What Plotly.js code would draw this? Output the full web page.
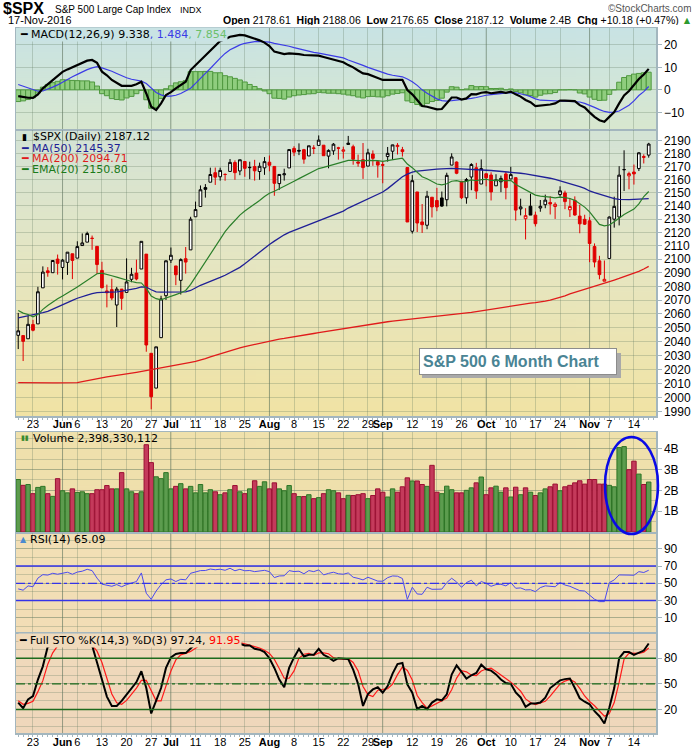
<!DOCTYPE html>
<html><head><meta charset="utf-8">
<script src="https://cdn.plot.ly/plotly-3.0.1.min.js"></script>
<style>html,body{margin:0;padding:0;background:#fff;}#chart{width:700px;height:748px;}</style>
</head><body><div id="chart"></div>
<script>
const dates=['2016-05-18','2016-05-19','2016-05-20','2016-05-23','2016-05-24','2016-05-25','2016-05-26','2016-05-27','2016-05-31',
'2016-06-01','2016-06-02','2016-06-03','2016-06-06','2016-06-07','2016-06-08','2016-06-09','2016-06-10','2016-06-13','2016-06-14','2016-06-15','2016-06-16','2016-06-17','2016-06-20','2016-06-21','2016-06-22','2016-06-23','2016-06-24','2016-06-27','2016-06-28','2016-06-29','2016-06-30',
'2016-07-01','2016-07-05','2016-07-06','2016-07-07','2016-07-08','2016-07-11','2016-07-12','2016-07-13','2016-07-14','2016-07-15','2016-07-18','2016-07-19','2016-07-20','2016-07-21','2016-07-22','2016-07-25','2016-07-26','2016-07-27','2016-07-28','2016-07-29',
'2016-08-01','2016-08-02','2016-08-03','2016-08-04','2016-08-05','2016-08-08','2016-08-09','2016-08-10','2016-08-11','2016-08-12','2016-08-15','2016-08-16','2016-08-17','2016-08-18','2016-08-19','2016-08-22','2016-08-23','2016-08-24','2016-08-25','2016-08-26','2016-08-29','2016-08-30','2016-08-31',
'2016-09-01','2016-09-02','2016-09-06','2016-09-07','2016-09-08','2016-09-09','2016-09-12','2016-09-13','2016-09-14','2016-09-15','2016-09-16','2016-09-19','2016-09-20','2016-09-21','2016-09-22','2016-09-23','2016-09-26','2016-09-27','2016-09-28','2016-09-29','2016-09-30',
'2016-10-03','2016-10-04','2016-10-05','2016-10-06','2016-10-07','2016-10-10','2016-10-11','2016-10-12','2016-10-13','2016-10-14','2016-10-17','2016-10-18','2016-10-19','2016-10-20','2016-10-21','2016-10-24','2016-10-25','2016-10-26','2016-10-27','2016-10-28','2016-10-31',
'2016-11-01','2016-11-02','2016-11-03','2016-11-04','2016-11-07','2016-11-08','2016-11-09','2016-11-10','2016-11-11','2016-11-14','2016-11-15','2016-11-16','2016-11-17'];

const open=[2044.38,2044.21,2041.88,2052.23,2052.65,2078.93,2091.44,2090.06,2100.13,2093.94,
2097.71,2104.07,2100.83,2110.18,2112.71,2115.65,2109.57,2091.75,2076.65,2077.60,
2066.36,2078.00,2075.58,2085.19,2089.75,2092.80,2103.81,2031.45,2006.67,2042.69,
2073.17,2099.34,2095.05,2084.43,2100.42,2106.97,2131.72,2139.50,2153.81,2157.88,
2165.13,2162.04,2163.79,2166.10,2172.91,2166.47,2173.71,2168.97,2169.81,2166.05,
2168.83,2173.15,2169.94,2156.81,2163.51,2168.79,2183.76,2182.24,2182.81,2177.97,
2183.74,2186.08,2186.24,2177.84,2181.90,2184.24,2181.58,2187.81,2185.09,2173.29,
2175.10,2170.19,2179.45,2173.56,2171.33,2177.49,2181.61,2185.17,2182.76,2169.08,
2120.86,2150.47,2127.86,2125.36,2146.48,2143.99,2145.94,2144.58,2170.94,2173.29,
2158.54,2146.04,2161.85,2168.90,2156.51,2164.33,2163.37,2155.15,2158.22,2164.19,
2160.39,2161.35,2137.67,2130.26,2139.68,2132.95,2138.31,2140.81,2142.51,2139.43,
2148.50,2149.72,2136.97,2144.06,2132.23,2129.78,2128.68,2109.43,2098.80,2083.79,
2100.59,2129.92,2131.56,2167.49,2162.71,2165.64,2168.29,2177.53,2178.61];
const high=[2060.61,2044.21,2058.35,2055.58,2079.67,2094.73,2094.16,2099.06,2103.48,2100.20,
2105.26,2104.07,2113.36,2119.22,2120.55,2117.64,2109.57,2098.12,2081.30,2085.65,
2079.62,2078.00,2100.66,2093.66,2099.74,2113.32,2103.81,2031.45,2036.09,2073.13,
2098.94,2108.71,2095.05,2100.72,2109.08,2131.71,2143.16,2155.40,2156.45,2168.99,
2169.05,2168.99,2164.63,2175.63,2174.56,2175.11,2173.71,2173.54,2174.98,2172.85,
2177.09,2178.29,2170.20,2163.79,2168.19,2182.87,2185.44,2187.66,2183.41,2185.79,
2186.28,2193.81,2186.28,2183.08,2187.89,2185.00,2185.15,2193.42,2186.66,2179.00,
2187.94,2183.48,2182.24,2173.79,2173.56,2184.87,2186.57,2187.87,2184.94,2169.08,
2163.30,2150.47,2141.33,2151.31,2146.48,2153.61,2150.80,2165.11,2179.99,2173.75,
2158.54,2161.13,2172.40,2172.67,2175.30,2164.41,2165.46,2163.95,2162.93,2165.86,
2169.60,2161.56,2145.36,2138.19,2149.19,2135.61,2144.38,2148.44,2147.18,2142.63,
2154.79,2151.44,2145.73,2147.13,2140.72,2133.25,2131.45,2111.76,2102.56,2099.07,
2132.00,2146.87,2170.10,2182.30,2165.92,2171.36,2180.84,2179.22,2188.06];
const low=[2034.49,2025.91,2041.88,2047.26,2052.65,2078.93,2087.08,2090.06,2088.66,2085.10,
2088.45,2085.36,2100.83,2110.18,2112.71,2107.01,2089.19,2078.46,2064.63,2069.88,
2050.37,2062.84,2075.58,2083.02,2084.45,2092.80,2032.57,1991.68,2006.67,2042.69,
2070.00,2097.22,2080.86,2074.02,2089.39,2106.97,2131.72,2139.50,2146.18,2157.88,
2155.79,2159.07,2159.01,2166.10,2159.75,2163.24,2161.99,2160.18,2159.07,2159.73,
2163.49,2166.21,2147.58,2152.02,2159.07,2168.79,2177.85,2178.61,2172.00,2177.97,
2179.42,2186.08,2178.15,2168.50,2178.82,2175.13,2175.96,2186.80,2171.25,2169.74,
2160.39,2170.19,2170.41,2161.35,2157.09,2173.59,2175.10,2179.07,2177.49,2127.81,
2119.12,2120.27,2119.60,2122.36,2131.20,2135.91,2139.17,2139.57,2170.94,2163.97,
2145.04,2141.55,2151.79,2145.20,2156.51,2154.77,2144.01,2155.15,2150.28,2144.85,
2160.39,2128.84,2132.77,2114.72,2132.98,2124.43,2135.49,2138.15,2133.44,2130.09,
2146.91,2137.45,2131.59,2132.52,2119.36,2125.53,2097.85,2094.00,2085.19,2083.79,
2100.59,2123.56,2125.22,2151.17,2152.49,2156.08,2166.38,2172.20,2176.65];
const close=[2047.63,2040.04,2052.32,2048.04,2076.06,2090.54,2090.10,2099.06,2096.95,2099.33,
2105.26,2099.13,2109.41,2112.13,2119.12,2115.48,2096.07,2079.06,2075.32,2071.50,
2077.99,2071.22,2083.25,2088.90,2085.45,2113.32,2037.41,2000.54,2036.09,2070.77,
2098.86,2102.95,2088.55,2099.73,2097.90,2129.90,2137.16,2152.14,2152.43,2163.75,
2161.74,2166.89,2163.78,2173.02,2165.17,2175.03,2168.48,2169.18,2166.58,2170.06,
2173.60,2170.84,2157.03,2163.79,2164.25,2182.87,2180.89,2181.74,2175.49,2185.79,
2184.05,2190.15,2178.15,2182.22,2187.02,2183.87,2182.64,2186.90,2175.44,2172.47,
2169.04,2180.38,2176.12,2170.95,2170.86,2179.98,2186.48,2186.16,2181.30,2127.81,
2159.04,2127.02,2125.77,2147.26,2139.16,2139.12,2139.76,2163.12,2177.18,2164.69,
2146.10,2159.93,2171.37,2151.13,2168.27,2161.20,2150.49,2159.73,2160.77,2153.74,
2163.66,2136.73,2139.18,2132.55,2132.98,2126.50,2139.60,2144.29,2141.34,2141.16,
2151.33,2143.16,2139.43,2133.04,2126.41,2126.15,2111.72,2097.94,2088.66,2085.18,
2131.52,2139.56,2163.26,2167.48,2164.45,2164.20,2180.39,2176.94,2187.12];
const prevClose=2047.21;

const ma50=[2057.0,2057.7,2058.4,2059.0,2059.9,2060.9,2061.8,2063.5,2065.2,2066.9,
2068.3,2069.8,2071.3,2072.6,2073.6,2074.6,2075.4,2075.6,2075.6,2075.6,
2076.0,2076.5,2077.0,2077.8,2078.5,2079.6,2079.5,2077.5,2076.0,2075.8,
2075.8,2075.9,2075.9,2075.9,2076.0,2077.0,2079.0,2080.8,2082.2,2083.5,
2084.8,2086.6,2088.2,2090.0,2092.0,2094.0,2096.6,2099.5,2102.5,2105.5,
2108.5,2111.0,2113.5,2116.0,2118.2,2120.0,2121.5,2123.0,2124.5,2126.0,
2127.5,2129.0,2130.3,2131.6,2133.0,2134.5,2136.0,2138.3,2140.0,2141.5,
2143.0,2145.2,2147.0,2148.7,2150.4,2153.0,2156.0,2159.5,2162.0,2164.0,
2165.6,2166.3,2166.8,2167.3,2167.6,2167.8,2168.0,2168.3,2168.4,2168.3,
2168.0,2167.7,2167.6,2167.4,2167.2,2167.0,2166.8,2166.5,2166.3,2166.0,
2165.6,2165.2,2164.7,2164.2,2163.6,2163.0,2162.3,2161.6,2160.9,2160.0,
2159.0,2158.0,2157.0,2155.8,2154.5,2153.2,2151.2,2150.0,2148.8,2147.5,
2146.2,2145.4,2144.9,2144.6,2144.6,2144.8,2145.0,2145.2,2145.37];
const ma200=[2010.5,2010.4,2010.4,2010.3,2010.3,2010.3,2010.3,2010.3,2010.3,2010.3,
2010.3,2010.4,2010.5,2011.2,2012.0,2012.8,2013.6,2014.2,2014.7,2015.2,
2015.6,2016.2,2016.8,2017.3,2017.9,2018.5,2019.2,2019.8,2020.4,2021.0,
2021.6,2022.3,2022.9,2023.6,2024.3,2025.0,2025.7,2026.5,2027.6,2028.9,
2030.0,2031.2,2032.4,2033.6,2034.5,2035.4,2036.3,2037.1,2038.0,2038.8,
2039.6,2040.4,2041.2,2041.7,2042.2,2042.7,2043.2,2043.8,2044.4,2045.0,
2045.7,2046.3,2046.9,2047.5,2048.0,2048.5,2049.0,2049.5,2050.1,2050.7,
2051.3,2051.9,2052.5,2053.1,2053.7,2054.2,2054.6,2055.0,2055.4,2055.8,
2056.2,2056.6,2057.0,2057.4,2057.7,2058.0,2058.3,2058.6,2058.9,2059.4,
2059.9,2060.4,2061.0,2061.6,2062.2,2062.8,2063.4,2064.0,2064.6,2065.2,
2065.8,2066.4,2066.9,2067.3,2067.7,2068.1,2068.5,2069.2,2070.0,2070.9,
2071.9,2073.0,2074.5,2075.6,2076.6,2077.5,2078.5,2079.7,2081.0,2082.2,
2083.4,2084.6,2085.8,2087.0,2088.2,2089.5,2091.0,2092.8,2094.71];
const ema20=[2062.4,2060.5,2059.5,2057.8,2059.5,2063.2,2066.0,2068.6,2070.9,2073.0,
2075.4,2077.4,2079.5,2081.8,2084.3,2087.0,2089.3,2089.8,2089.0,2087.8,
2086.8,2085.6,2084.4,2083.6,2082.7,2082.5,2078.5,2073.0,2071.0,2070.2,
2071.5,2073.0,2074.0,2075.3,2077.0,2081.5,2087.0,2092.5,2098.0,2104.0,
2110.0,2115.0,2120.5,2125.0,2129.0,2133.0,2136.0,2138.5,2141.2,2144.0,
2147.0,2149.5,2151.0,2152.8,2154.5,2156.8,2158.6,2160.6,2162.4,2164.6,
2166.5,2168.3,2169.2,2170.3,2171.6,2172.6,2173.5,2174.5,2174.6,2174.4,
2174.2,2174.6,2174.7,2174.4,2173.8,2174.4,2175.2,2175.9,2176.2,2171.7,
2169.0,2165.5,2162.0,2160.5,2158.3,2156.5,2155.9,2156.7,2158.6,2159.1,
2158.1,2158.5,2159.7,2159.0,2159.9,2160.1,2159.2,2159.3,2159.4,2158.9,
2159.3,2156.2,2154.3,2152.2,2150.4,2148.1,2147.3,2147.1,2146.5,2146.0,
2146.5,2146.2,2145.5,2144.1,2141.5,2139.0,2135.4,2130.9,2126.0,2124.9,
2125.5,2128.0,2131.0,2133.5,2135.5,2137.5,2141.5,2147.0,2150.8];

const volume=[2.52e9,2.24e9,2.28e9,1.84e9,2.14e9,2.19e9,1.84e9,1.71e9,2.56e9,1.98e9,
1.88e9,2.07e9,1.90e9,1.93e9,1.84e9,1.84e9,2.03e9,2.03e9,2.23e9,2.07e9,
2.07e9,2.85e9,2.07e9,1.93e9,1.84e9,1.93e9,4.19e9,3.33e9,2.65e9,2.56e9,
2.85e9,2.07e9,2.19e9,2.32e9,2.07e9,2.19e9,1.88e9,2.28e9,1.88e9,2.03e9,
1.93e9,1.79e9,1.88e9,2.03e9,2.23e9,1.93e9,1.84e9,2.07e9,2.46e9,2.19e9,
2.41e9,2.07e9,2.36e9,2.07e9,1.98e9,2.23e9,1.84e9,1.70e9,1.70e9,1.79e9,
1.60e9,1.65e9,1.84e9,2.03e9,1.98e9,1.88e9,1.60e9,1.76e9,1.75e9,1.79e9,
1.84e9,1.60e9,1.75e9,2.07e9,1.91e9,1.68e9,2.07e9,1.91e9,2.17e9,2.60e9,
2.45e9,2.45e9,2.28e9,2.19e9,3.20e9,1.91e9,1.84e9,2.20e9,2.03e9,1.88e9,
1.88e9,2.00e9,2.12e9,2.36e9,2.64e9,1.79e9,2.12e9,2.20e9,1.91e9,2.12e9,
1.68e9,2.15e9,1.79e9,2.12e9,1.91e9,1.75e9,1.88e9,2.07e9,2.17e9,2.30e9,
1.98e9,2.17e9,2.24e9,2.36e9,2.46e9,2.30e9,2.52e9,2.52e9,2.30e9,2.30e9,
2.24e9,2.17e9,4.05e9,4.10e9,2.99e9,3.40e9,2.78e9,2.28e9,2.398e9];

const macd=[-2.8,-3.3,-3.5,-3.6,-2.0,0.7,2.6,4.4,6.0,8.0,
9.1,10.0,11.0,12.0,13.0,13.3,12.0,8.1,6.5,4.4,
3.0,1.8,1.8,1.8,2.5,3.6,-1.6,-7.5,-9.0,-6.0,
-2.3,-1.0,0.7,2.0,3.6,8.8,11.0,13.0,15.5,17.7,
19.5,21.7,22.5,23.6,24.0,24.4,24.2,23.5,22.9,22.0,
21.0,19.5,17.0,16.5,15.9,16.2,16.2,15.9,15.5,15.4,
15.0,15.2,14.6,14.0,13.6,13.0,12.3,11.0,10.0,8.6,
7.3,7.0,6.3,5.3,4.4,4.4,4.6,4.5,4.5,-0.1,
-2.0,-4.5,-7.2,-7.5,-8.0,-8.7,-8.5,-6.0,-3.4,-3.4,
-4.3,-3.8,-1.9,-2.0,-1.3,-1.0,-1.5,-1.2,-0.9,-1.3,
-0.8,-2.0,-3.0,-4.5,-5.5,-7.2,-7.0,-6.5,-6.5,-6.0,
-4.8,-4.8,-4.8,-5.0,-6.8,-7.8,-10.0,-12.0,-13.5,-14.2,
-12.0,-9.9,-6.0,-2.5,-0.5,2.1,4.8,6.8,9.338];
const macdSignal=[2.4,1.6,0.8,-0.1,-0.6,-0.5,0.2,1.2,2.2,3.5,
4.7,5.8,6.9,8.0,9.0,9.8,10.3,9.8,9.1,8.3,
7.3,6.3,5.4,4.7,4.2,3.9,2.8,0.7,-1.2,-2.2,
-2.8,-2.8,-2.4,-1.6,-0.5,0.7,2.9,4.9,7.3,9.5,
11.9,14.1,16.2,17.8,18.9,20.0,20.7,21.1,21.4,21.5,
21.5,21.2,20.7,20.3,20.0,19.4,18.8,18.2,17.6,17.2,
16.7,16.3,15.9,15.5,15.1,14.7,14.2,13.3,12.6,11.8,
10.9,10.0,9.2,8.4,7.6,7.0,6.5,6.1,5.8,4.8,
3.6,2.0,0.0,-1.5,-2.8,-4.0,-4.8,-5.0,-4.8,-4.6,
-4.4,-4.2,-3.8,-3.4,-2.8,-2.4,-2.1,-1.8,-1.6,-1.3,
-1.2,-1.3,-1.7,-2.3,-3.0,-4.0,-4.6,-4.7,-4.8,-4.8,
-4.8,-4.8,-4.9,-5.0,-5.4,-6.0,-6.8,-7.8,-8.8,-9.6,
-10.0,-9.9,-9.4,-8.0,-6.8,-4.9,-2.5,-0.8,1.484];
const macdHist=[-5.2,-4.9,-4.3,-3.5,-1.4,1.2,2.4,3.2,3.8,4.5,
4.4,4.2,4.1,4.0,4.0,3.5,1.7,-1.7,-2.6,-3.9,
-4.3,-4.5,-3.6,-2.9,-1.7,-0.3,-4.4,-8.2,-7.8,-3.8,
0.5,1.8,3.1,3.6,4.1,8.1,8.1,8.1,8.2,8.2,
7.6,7.6,6.3,5.8,5.1,4.4,3.5,2.4,1.5,0.5,
-0.5,-1.7,-3.7,-3.8,-4.1,-3.2,-2.6,-2.3,-2.1,-1.8,
-1.7,-1.1,-1.3,-1.5,-1.5,-1.7,-1.9,-2.3,-2.6,-3.2,
-3.6,-3.0,-2.9,-3.1,-3.2,-2.6,-1.9,-1.6,-1.3,-4.9,
-5.6,-6.5,-7.2,-6.0,-5.2,-4.7,-3.7,-1.0,1.4,1.2,
0.1,0.4,1.9,1.4,1.5,1.4,0.6,0.6,0.7,0.0,
0.4,-0.7,-1.3,-2.2,-2.5,-3.2,-2.4,-1.8,-1.7,-1.2,
0.0,0.0,0.1,0.0,-1.4,-1.8,-3.2,-4.2,-4.7,-4.6,
-2.0,0.0,3.4,5.5,6.3,7.0,7.3,7.6,7.854];

const rsi=[43.5,42,47,46,56,60,59.5,61.6,60.5,61.6,
62.8,60.5,63,64,66.2,64.7,56,49,48,46.5,
48.5,46,48.5,50,52,62,38.4,31.4,41,48.5,
54,55,52,54.6,54,61.6,62.8,64.7,64.8,66.5,
65.7,66.3,65.1,67.4,64.5,66.2,64.5,64.8,63.5,64.3,
65,63.5,56.6,58.5,58.7,64.7,63.6,64,61,64.7,
63.5,65.5,59.7,61.5,62.8,61,60.5,62,57,55.7,
53.9,57,55,52.5,52.4,56.5,58.5,58.2,55.5,31.4,
45.4,37.6,37.2,45.4,43,43,43.2,50.8,55.8,51.5,
45.4,50.8,53.5,47,52,50,46.5,48.5,48.8,47,
50.8,44.2,44.6,42.3,42.5,40.3,45,47,46.2,46,
50.8,48,46.5,44,41.5,41,36,31.5,28.7,28.7,
50.8,53.9,59.7,60,59.5,59.3,63.5,62.5,65.09];
const stoK=[28,21.4,31.8,35.7,55,70.5,93.7,95,95,99,
100,100,96,95,95,95,75,55,35,24,
24,30,37.6,45,52,64.7,45,15.2,30,45,
68.6,81,85,86,86,91.8,97,99,100,100,
100,100,99,100,99,97,95,95,91,90,
87.2,80,68.6,55,46,68.6,81,91,82,84,
84,91,84,81,77,80,79.5,79,66.6,50,
24,38,43.4,46,39.5,47.3,62,73.2,74.4,49.2,
39.5,20.2,24,20.2,28,31.8,30.6,37.6,60.8,71.7,
64,56.2,60,62.8,72.5,67,65.5,61,55,51,
50,40,34,23,26.8,26.8,28,33.7,45,50,
54,55.5,56.2,45,33,29,26,18,12,3.5,
22,45,80,87.2,87.2,84,86.5,89,97.24];
const stoD=[30,26,27,29.6,40.8,53.7,73,86.4,94.6,96.3,
98,99.7,98.7,97,95.3,95,88.3,75,55,38,
27.7,26,30.5,37.5,45,54,54,42,30,30,
48,65,78,84,85.7,88,91.6,95.9,98.7,99.7,
100,100,99.7,99.7,99.3,98.3,97,95.7,93.7,92,
89.4,85.7,78.6,67.9,56.5,56.5,65.2,80.2,84.7,85.7,
83.3,86.3,86.3,85.3,80.7,79.4,78.8,79.5,75,65.2,
46.9,37.3,35.1,42.5,43,44.3,49.6,60.8,69.9,65.6,
54.4,36.3,27.9,21.5,24.1,26.7,30.1,33.3,43,56.7,
65.5,64,60,59.7,65.1,67.4,68.3,64.5,60.5,55.7,
52,47,41.3,32.3,28,25.5,27.2,29.5,35.6,42.9,
49.7,53.2,55.2,52.2,44.7,35.7,29.3,24.3,18.7,12,
15,28,52,79,86,86,85.7,87,91.95];

const tickDates=['2016-05-23','2016-06-01','2016-06-06','2016-06-13','2016-06-20','2016-06-27','2016-07-01','2016-07-11','2016-07-18','2016-07-25','2016-08-01','2016-08-08','2016-08-15','2016-08-22','2016-08-29','2016-09-01','2016-09-12','2016-09-19','2016-09-26','2016-10-03','2016-10-10','2016-10-17','2016-10-24','2016-11-01','2016-11-07','2016-11-14'];
const tickLabels=['23','Jun','6','13','20','27','Jul','11','18','25','Aug','8','15','22','29','Sep','12','19','26','Oct','10','17','24','Nov','7','14'];
const priceTicks=[1990,2000,2010,2020,2030,2040,2050,2060,2070,2080,2090,2100,2110,2120,2130,2140,2150,2160,2170,2180,2190];
const macdTicks=[-10,0,10,20];
const volTicks=[1e9,2e9,3e9,4e9];
const volTickLabels=['1B','2B','3B','4B'];
const rsiTicks=[10,30,50,70,90];
const stoTicks=[20,50,80];

// ---------------- layout helpers ----------------
const W=700,H=748,L=16,R=656;
const P={macd:[28,129],price:[130,416],vol:[432,532],rsi:[533,632],sto:[633,733]};
function dom(p){return [1-p[1]/H,1-p[0]/H];}
const xi=dates.map((d,i)=>i);
const tickIdx=tickDates.map(d=>dates.indexOf(d));
const isMonth=tickLabels.map(l=>isNaN(+l));
const tickText=tickLabels.map((l,k)=>isMonth[k]?'<b>'+l+'</b>':l);
const monthIdx=tickIdx.filter((v,k)=>isMonth[k]);
const xrange=[-0.45,129.48];
const gridC='rgba(95,118,95,0.28)';
const frameC='#a3b6be';
const axFont={family:'Liberation Sans, Arial, sans-serif',size:12,color:'#000'};
const xFont={family:'Liberation Sans, Arial, sans-serif',size:11,color:'#000'};
function xax(extra){return Object.assign({domain:[L/W,R/W],range:xrange,tickmode:'array',tickvals:tickIdx,ticktext:tickText,tickangle:0,showgrid:true,gridcolor:gridC,gridwidth:1,zeroline:false,showline:true,mirror:true,linecolor:frameC,linewidth:1.5,ticks:'',showticklabels:false,fixedrange:true,tickfont:xFont,automargin:false,rangeslider:{visible:false}},extra);}
function yax(p,extra){return Object.assign({domain:dom(p),side:'right',showgrid:true,gridcolor:gridC,zeroline:false,showline:true,mirror:true,linecolor:frameC,linewidth:1.5,ticks:'outside',ticklen:4,tickcolor:frameC,tickfont:axFont,fixedrange:true,tickmode:'array',automargin:false},extra);}
const xMinor={ticks:'outside',ticklen:2,tickcolor:frameC,dtick:1,tick0:0,showgrid:false};

function grad(stops){const c=document.createElement('canvas');c.width=4;c.height=256;const g=c.getContext('2d');const lg=g.createLinearGradient(0,0,0,256);stops.forEach(s=>lg.addColorStop(s[0],s[1]));g.fillStyle=lg;g.fillRect(0,0,4,256);return c.toDataURL();}
function bgImg(p,stops){return {source:grad(stops),xref:'paper',yref:'paper',x:L/W,y:1-p[0]/H,sizex:(R-L)/W,sizey:(p[1]-p[0])/H,sizing:'stretch',xanchor:'left',yanchor:'top',layer:'below'};}
const images=[
 bgImg(P.macd,[[0,'#c8e3e4'],[1,'#d8e7cf']]),
 bgImg(P.price,[[0,'#d3e3d6'],[0.45,'#e5e6c3'],[1,'#f1e3a4']]),
 bgImg(P.vol,[[0,'#efe1ac'],[1,'#f0dfad']]),
 bgImg(P.rsi,[[0,'#f2e0b5'],[1,'#f2ddb6']]),
 bgImg(P.sto,[[0,'#f0dabb'],[1,'#efd7bb']])
];

// ---------------- traces ----------------
const upDay=close.map((c,i)=>c>=(i===0?prevClose:close[i-1]));
function candle(flag,col){const idx=xi.filter(i=>upDay[i]===flag);return {type:'candlestick',xaxis:'x2',yaxis:'y2',x:idx,open:idx.map(i=>open[i]),high:idx.map(i=>high[i]),low:idx.map(i=>low[i]),close:idx.map(i=>close[i]),increasing:{line:{color:col,width:1},fillcolor:'#ffffff'},decreasing:{line:{color:col,width:1},fillcolor:col},whiskerwidth:0,hoverinfo:'skip',showlegend:false};}
function line(y,xa,ya,color,width,extra){return Object.assign({type:'scatter',mode:'lines',x:xi,y:y,xaxis:xa,yaxis:ya,line:{color:color,width:width},hoverinfo:'skip',showlegend:false},extra||{});}
const traces=[
 {type:'bar',x:xi,y:macdHist,xaxis:'x',yaxis:'y',width:1,marker:{color:'#8fcd7e',line:{color:'#4f983f',width:1}},hoverinfo:'skip',showlegend:false},
 line(macdSignal,'x','y','#3b3be6',1.2),
 line(macd,'x','y','#000000',2.2),
 line(ma200,'x2','y2','#e01b1b',1.3),
 line(ma50,'x2','y2','#1f1f96',1.3),
 line(ema20,'x2','y2','#2a7f2a',1.2),
 candle(true,'#000000'),
 candle(false,'#e00000'),
 {type:'bar',x:xi,y:volume,xaxis:'x3',yaxis:'y3',width:0.9,marker:{color:upDay.map(u=>u?'#5c9c4e':'#c43a5b'),line:{color:upDay.map(u=>u?'#2e7526':'#9b0f33'),width:1}},hoverinfo:'skip',showlegend:false},
 line(rsi,'x4','y4','#4a4af0',1),
 line(stoD,'x5','y5','#ff1a1a',1.2),
 line(stoK,'x5','y5','#000000',2)
];

// ---------------- shapes ----------------
const shapes=[];
const panelAx=[['x','y'],['x2','y2'],['x3','y3'],['x4','y4'],['x5','y5']];
panelAx.forEach(([xa,ya])=>{monthIdx.forEach(m=>{shapes.push({type:'line',xref:xa,yref:ya+' domain',x0:m,x1:m,y0:0,y1:1,layer:'below',line:{color:'rgba(90,110,90,0.45)',width:1}});});});
function hline(xa,ya,yv,color,width,dash,x0,x1){return {type:'line',xref:xa+' domain',yref:ya,x0:(x0===undefined?0:x0),x1:(x1===undefined?1:x1),y0:yv,y1:yv,layer:'above',line:{color:color,width:width,dash:dash||'solid'}};}
shapes.push(hline('x4','y4',70,'#3434e8',1.5));
shapes.push(hline('x4','y4',30,'#3434e8',1.5));
shapes.push(hline('x4','y4',50,'#3434e8',1.2,'dashdot'));
shapes.push(hline('x5','y5',80,'#1d6b1d',1.5));
shapes.push(hline('x5','y5',20,'#1d6b1d',1.5));
shapes.push(hline('x5','y5',50,'#1d6b1d',1.2,'dashdot'));
const lg2190=Math.log10(2190), lg2120=Math.log10(2120);
shapes.push(hline('x2','y2',lg2190,'#ff0000',2.2));
shapes.push(hline('x2','y2',lg2120,'#ff0000',2.2,'solid',0,0.272));
shapes.push(hline('x2','y2',lg2120,'#008000',2.2,'solid',0.272,0.897));
shapes.push(hline('x2','y2',lg2120,'#ff0000',2.2,'solid',0.897,0.928));
shapes.push(hline('x2','y2',lg2120,'#008000',2.2,'solid',0.928,1));
shapes.push({type:'circle',xref:'paper',yref:'paper',x0:605/W,x1:658/W,y0:1-534/H,y1:1-437/H,layer:'above',line:{color:'#0a0ae6',width:2.5}});
shapes.push({type:'rect',xref:'paper',yref:'paper',x0:422/W,x1:621/W,y0:1-378/H,y1:1-353/H,layer:'above',fillcolor:'#a9a9a9',line:{width:0}});

// ---------------- annotations ----------------
function ann(text,x,y,o){return Object.assign({text:text,x:x/W,y:1-y/H,xref:'paper',yref:'paper',xanchor:'left',yanchor:'middle',showarrow:false,font:{family:'DejaVu Sans, sans-serif',size:11,color:'#000'}},o||{});}
const hdrF={family:'Liberation Sans, Arial, sans-serif',size:10.5,color:'#000'};
const annotations=[
 ann('<b>$SPX</b>',1,8.5,{height:13,font:{family:'Liberation Sans, Arial, sans-serif',size:16,color:'#000'}}),
 ann('S&P 500 Large Cap Index',53,9,{height:11,font:{family:'Liberation Sans, Arial, sans-serif',size:10,color:'#000'}}),
 ann('INDX',178,9,{height:11,font:{family:'Liberation Sans, Arial, sans-serif',size:9,color:'#000'}}),
 ann('©StockCharts.com',694,8,{xanchor:'right',height:11,font:{family:'Liberation Sans, Arial, sans-serif',size:10,color:'#555'}}),
 ann('17-Nov-2016',6,20.5,{height:10,font:{family:'Liberation Sans, Arial, sans-serif',size:11,color:'#000'}}),
 ann('<b>Open</b> 2178.61  <b>High</b> 2188.06  <b>Low</b> 2176.65  <b>Close</b> 2187.12  <b>Volume</b> 2.4B  <b>Chg</b> +10.18 (+0.47%) <span style="color:#2e9a2e">▲</span>',694,20.5,{xanchor:'right',height:10,font:hdrF}),
 ann('━ MACD(12,26,9) 9.338<span style="color:#3b3be6">, 1.484</span><span style="color:#6cc06c">, 7.854</span>',19,35,{bgcolor:'#c9e3e4',borderpad:0}),
 ann('$SPX (Daily) 2187.12',31,137,{height:9}),
 ann('<span style="color:#1f1f96">━ MA(50) 2145.37</span>',19,148,{height:9}),
 ann('<span style="color:#e01b1b">━ MA(200) 2094.71</span>',19,158.5,{height:9}),
 ann('<span style="color:#1a7a1a">━ EMA(20) 2150.80</span>',19,169,{height:9}),
 ann('Volume 2,398,330,112',31,438),
 ann('RSI(14) 65.09',28,539),
 ann('━ Full STO %K(14,3) %D(3) 97.24, <span style="color:#ff0000">91.95</span>',18,640,{bgcolor:'#f0dabb',borderpad:0}),
 ann('<b>S&P 500 6 Month Chart</b>',419,361.5,{width:190,height:19,align:'left',bgcolor:'#ffffff',bordercolor:'#8c8c8c',borderwidth:1,borderpad:3,font:{family:'Liberation Sans, Arial, sans-serif',size:16,color:'#4a8494'}}),
 ann('▮',20,137,{height:9,font:{family:'DejaVu Sans',size:9,color:'#000'}}),
 ann('▮▮',19,438,{font:{family:'DejaVu Sans',size:7,color:'#3a8a2e'}}),
 ann('▲',18,539,{font:{family:'DejaVu Sans',size:8,color:'#4a8ad0'}})
];

const layout={
 width:W,height:H,autosize:false,margin:{l:0,r:0,t:0,b:0,pad:0},
 paper_bgcolor:'#ffffff',plot_bgcolor:'rgba(0,0,0,0)',
 showlegend:false,boxgap:0.22,bargap:0,
 images:images,shapes:shapes,annotations:annotations,
 xaxis:xax({anchor:'y'}),
 xaxis2:xax({anchor:'y2',showticklabels:true,ticks:'outside',ticklen:3,tickcolor:frameC,minor:xMinor,ticklabelstandoff:-6}),
 xaxis3:xax({anchor:'y3'}),
 xaxis4:xax({anchor:'y4'}),
 xaxis5:xax({anchor:'y5',showticklabels:true,ticks:'outside',ticklen:2,tickcolor:frameC,minor:xMinor,ticklabelstandoff:-4}),
 yaxis:yax(P.macd,{range:[-17.4,27.5],tickvals:macdTicks}),
 yaxis2:yax(P.price,{type:'log',range:[Math.log10(1987),Math.log10(2198)],tickvals:priceTicks}),
 yaxis3:yax(P.vol,{range:[0,4.8e9],tickvals:volTicks,ticktext:volTickLabels,minor:{dtick:0.5e9,tick0:0,showgrid:true,gridcolor:gridC}}),
 yaxis4:yax(P.rsi,{range:[-6.5,108.3],tickvals:rsiTicks,minor:{tick0:0,dtick:10,showgrid:true,gridcolor:gridC}}),
 yaxis5:yax(P.sto,{range:[-7.7,109.6],tickvals:stoTicks,minor:{tick0:0,dtick:10,showgrid:true,gridcolor:gridC}})
};
Plotly.newPlot('chart',traces,layout,{staticPlot:true,displayModeBar:false});
</script></body></html>
